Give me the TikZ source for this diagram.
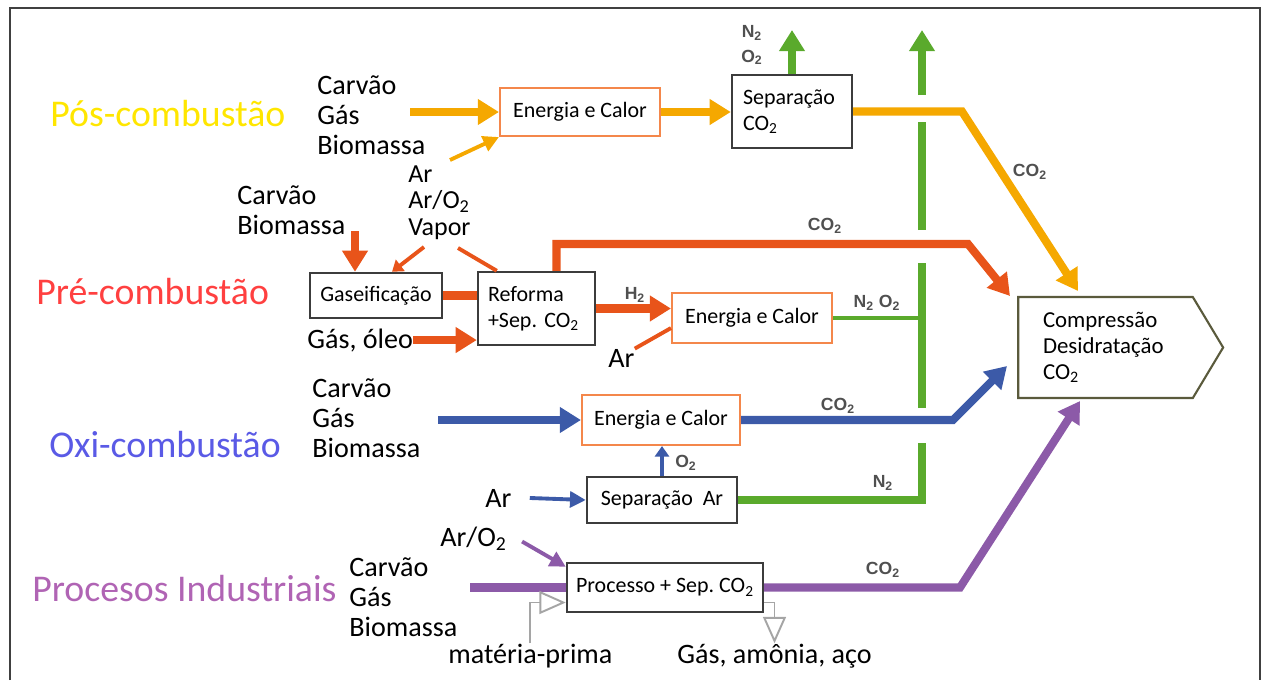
\documentclass[tikz,border=0pt]{standalone}
\usepackage{fontspec}
\setmainfont{Carlito}
\newfontfamily\gasfam{Liberation Sans}
\usetikzlibrary{arrows.meta,calc,shapes.symbols}
\frenchspacing

\definecolor{posflow}{RGB}{245,168,0}
\definecolor{preflow}{RGB}{232,84,26}
\definecolor{oxiflow}{RGB}{60,90,168}
\definecolor{indflow}{RGB}{140,90,168}
\definecolor{ventflow}{RGB}{90,170,44}
\definecolor{poslbl}{RGB}{255,230,0}
\definecolor{prelbl}{RGB}{255,64,64}
\definecolor{oxilbl}{RGB}{90,90,230}
\definecolor{indlbl}{RGB}{176,100,180}
\definecolor{unitedge}{RGB}{60,60,60}
\definecolor{heatedge}{RGB}{244,135,75}
\definecolor{compedge}{RGB}{90,90,60}
\definecolor{gastxt}{RGB}{80,80,80}
\definecolor{feedgray}{RGB}{165,165,165}

\begin{document}
\begin{tikzpicture}[x=0.02cm, y=-0.02cm,
  panelframe/.style={draw=black!75, line width=1.6pt},
  pipe/.style={line width=4.6pt},
  tube/.style={line width=2.2pt},
  feed/.style={draw=feedgray, line width=1.1pt},
  bighead/.style={-{Triangle[length=12pt,width=14pt]}},
  midhead/.style={-{Triangle[length=9pt,width=9pt]}},
  smallhead/.style={-{Triangle[length=6pt,width=8pt]}},
  openhead/.style={-{Triangle[open,length=15pt,width=13pt]}},
  route/.style={font=\fontsize{21.5}{24}\selectfont, inner sep=0pt},
  fuel/.style={font=\fontsize{16}{17}\selectfont, align=left, inner sep=0pt},
  gas/.style={font=\gasfam\bfseries\fontsize{10}{14}\selectfont, text=gastxt, inner sep=0pt, align=center},
  unitbox/.style={draw=unitedge, line width=1.4pt, fill=white, inner sep=0pt, font=\fontsize{12.5}{15}\selectfont},
  heatbox/.style={draw=heatedge, line width=1.2pt, fill=white, inner sep=0pt, font=\fontsize{12.5}{15}\selectfont},
  compbox/.style={signal, signal to=east, signal pointer angle=118, draw=compedge, line width=1.2pt, fill=white,
    minimum width=4.1cm, minimum height=2.02cm, inner sep=0pt, text width=2.5cm, align=left,
    font=\fontsize{13}{14.7}\selectfont}]
  \useasboundingbox (0,0) rectangle (1267,680);
  \draw[panelframe] (10,680) -- (10,8) -- (1260,8) -- (1260,680);

  % common end: compression and drying, and the vent column
  \node[compbox] (comp) at (1105.5,347.5) {Compressão\\Desidratação\\CO\textsubscript{2}};
  \coordinate (vent) at (922,30);

  % post-combustion
  \node[route, text=poslbl, anchor=west] (lpos) at (50,114) {Pós-combustão};
  \node[fuel, anchor=west] (fpos) at (317,115) {Carvão\\Gás\\Biomassa};
  \node[heatbox, minimum width=3.2cm, minimum height=0.96cm] (hpos) at (580,112) {Energia e Calor};
  \node[unitbox, minimum width=2.4cm, minimum height=1.46cm, text width=1.96cm, align=left] (sepco) at (792,111.5) {Separação\\CO\textsubscript{2}};
  \node[gas] (vpos) at (752,45) {N\textsubscript{2}\\O\textsubscript{2}};
  \node[gas] (cpos) at (1030,172) {CO\textsubscript{2}};
  \coordinate (posin) at (410,112);
  \coordinate (posair) at (450,160);
  \coordinate (posbend) at (962,111.5);
  \coordinate (postip) at (1078,291);
  \draw[pipe, posflow, bighead] (posin) -- (hpos.west);
  \draw[tube, posflow, midhead] (posair) -- (hpos.south west);
  \draw[pipe, posflow, bighead] (hpos.east) -- (hpos.east -| sepco.west);
  \draw[pipe, ventflow, bighead] (sepco.north) -- (sepco.north |- vent);

  % pre-combustion
  \node[route, text=prelbl, anchor=west] (lpre) at (36,292) {Pré-combustão};
  \node[fuel, anchor=west] (fpre) at (237,210) {Carvão\\Biomassa};
  \node[fuel, anchor=north west, font=\fontsize{14.8}{15.2}\selectfont] (gpre) at (408,165) {Ar\\Ar/O\textsubscript{2}\\Vapor};
  \node[fuel, anchor=base west] (oleo) at (307,348) {Gás, óleo};
  \node[unitbox, minimum width=2.64cm, minimum height=0.9cm] (gasif) at (376,295.5) {Gaseificação};
  \node[unitbox, minimum width=2.34cm, minimum height=1.46cm, text width=1.94cm, align=left] (reform) at (536.5,308.5) {Reforma\\+Sep. CO\textsubscript{2}};
  \node[heatbox, minimum width=3.2cm, minimum height=1cm] (hpre) at (752,318) {Energia e Calor};
  \node[fuel, anchor=base west] (arh) at (608,367) {Ar};
  \node[gas] (cpre) at (825,226) {CO\textsubscript{2}};
  \node[gas] (h2) at (635,295) {H\textsubscript{2}};
  \node[gas] (npre) at (877,303) {N\textsubscript{2} O\textsubscript{2}};
  \coordinate (prefeed) at (355,231);
  \coordinate (vapgas) at (424,247);
  \coordinate (vapref) at (458,248);
  \coordinate (prebend) at (968,244);
  \coordinate (pretip) at (1010,296);
  \draw[pipe, preflow, bighead] (prefeed) -- (prefeed |- gasif.north);
  \draw[tube, preflow, smallhead] (vapgas) -- ($(gasif.north)+(16,0)$);
  \draw[tube, preflow] (vapref) -- ($(reform.north west)+(20,0)$);
  \draw[pipe, preflow] (gasif.east) -- (gasif.east -| reform.west);
  \draw[pipe, preflow, bighead] (oleo.east) -- (oleo.east -| reform.west);
  \draw[pipe, preflow, bighead] ($(reform.north)+(20,0)$) |- (prebend) -- (pretip);
  \draw[pipe, preflow, bighead] (reform.east) -- (reform.east -| hpre.west);
  \draw[tube, preflow] (arh.north east) -- ($(hpre.south west)+(0,-16)$);
  \draw[tube, ventflow] (hpre.east) -- (hpre.east -| vent);

  % oxy-combustion
  \node[route, text=oxilbl, anchor=west] (loxi) at (49,445) {Oxi-combustão};
  \node[fuel, anchor=west] (foxi) at (312,418) {Carvão\\Gás\\Biomassa};
  \node[heatbox, minimum width=3.16cm, minimum height=1cm] (hoxi) at (661,420) {Energia e Calor};
  \node[unitbox, minimum width=3cm, minimum height=0.92cm] (asu) at (662,500) {Separação\ \ Ar};
  \node[fuel, anchor=base west] (aroxi) at (485,507) {Ar};
  \node[gas] (coxi) at (838,406) {CO\textsubscript{2}};
  \node[gas] (o2) at (686,463) {O\textsubscript{2}};
  \node[gas] (nasu) at (883,483) {N\textsubscript{2}};
  \coordinate (oxin) at (438,420);
  \coordinate (oxbend) at (953,420);
  \coordinate (oxtip) at (1007,366);
  \draw[pipe, oxiflow, bighead] (oxin) -- (hoxi.west);
  \draw[pipe, oxiflow, bighead] (hoxi.east) -- (oxbend) -- (oxtip);
  \draw[tube, oxiflow, smallhead] (asu.north) -- (asu.north |- hoxi.south);
  \draw[tube, oxiflow, midhead] ($(aroxi.east)+(18,0)$) -- (asu.west);

  % vent column, broken where the CO2 lines cross it
  \draw[pipe, ventflow] (asu.east) -| (922,443);
  \foreach \ya/\yb in {408/263, 230/122}
    \draw[pipe, ventflow] (922,\ya) -- (922,\yb);
  \draw[pipe, ventflow, bighead] (922,95) -- (vent);
  % the post-combustion CO2 line goes over the gap
  \draw[pipe, posflow, bighead] (sepco.east) -- (posbend) -- (postip);

  % industrial processes
  \node[route, text=indlbl, anchor=west] (lind) at (32,589) {Procesos Industriais};
  \node[fuel, anchor=west] (find) at (349,597) {Carvão\\Gás\\Biomassa};
  \node[unitbox, minimum width=3.92cm, minimum height=0.98cm] (proc) at (665,587.5) {Processo + Sep. CO\textsubscript{2}};
  \node[fuel, anchor=base west] (aoind) at (440,546) {Ar/O\textsubscript{2}};
  \node[fuel, anchor=base west] (mp) at (448,663) {matéria-prima};
  \node[fuel, anchor=base west] (prod) at (677,663) {Gás, amônia, aço};
  \node[gas] (cind) at (883,570) {CO\textsubscript{2}};
  \coordinate (indin) at (470,587.5);
  \coordinate (indbend) at (960,587.5);
  \coordinate (indtip) at (1080,401);
  \draw[pipe, indflow] (indin) -- (proc.west);
  \draw[tube, indflow, midhead] ($(aoind.east)+(15,3)$) -- ($(proc.north west)+(0,5)$);
  \draw[pipe, indflow, bighead] (proc.east) -- (indbend) -- (indtip);
  \draw[feed, openhead] (mp.north) |- ($(proc.west)+(0,15)$);
  \draw[feed, openhead] ($(proc.east)+(0,15)$) -| (prod.north);
\end{tikzpicture}
\end{document}
